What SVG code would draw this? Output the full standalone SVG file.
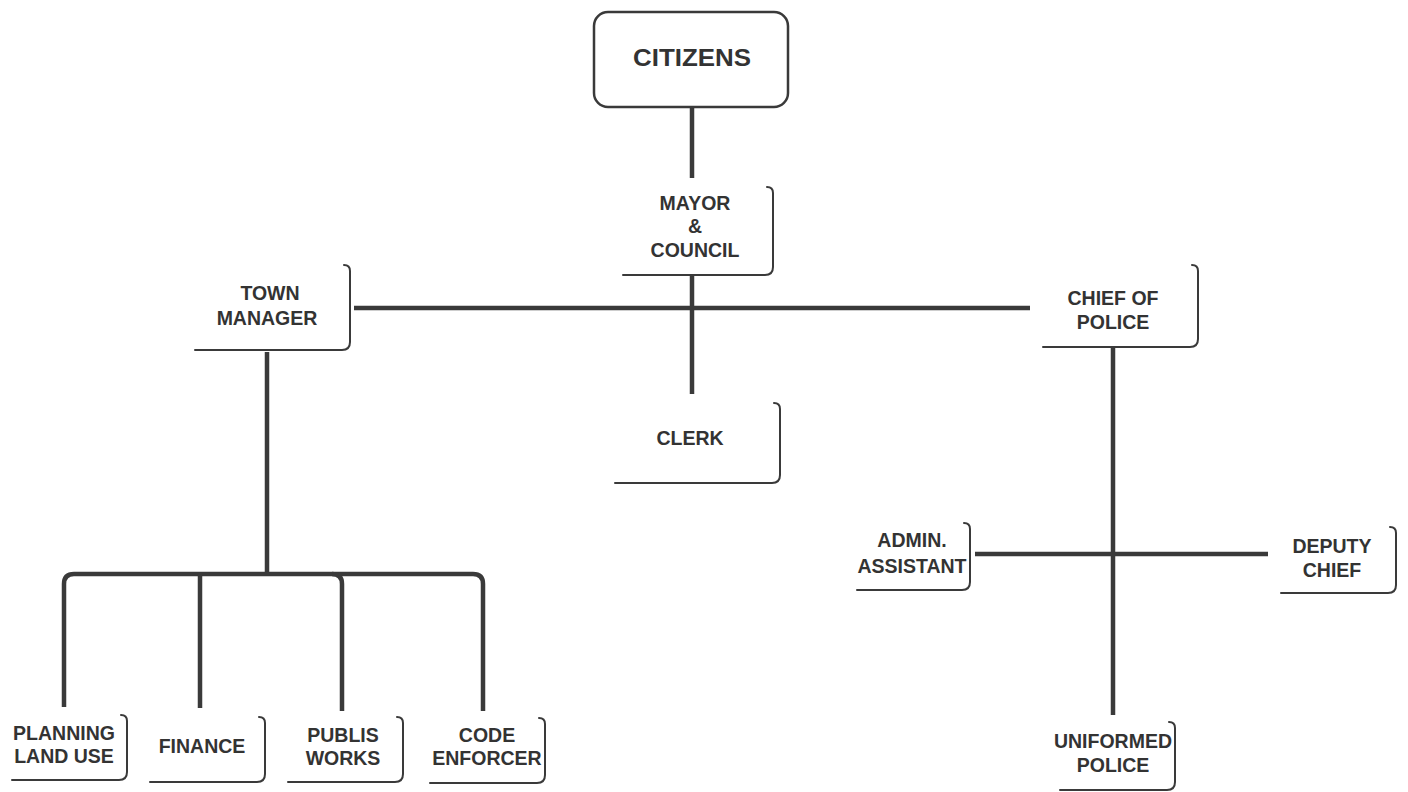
<svg xmlns="http://www.w3.org/2000/svg" width="1408" height="792" viewBox="0 0 1408 792">
<style>
.lbl{font-family:"Liberation Sans",Arial,sans-serif;font-weight:bold;font-size:19.5px;fill:#333;text-anchor:middle}
.big{font-size:23px}
.box{fill:none;stroke:#3a3a3a;stroke-width:2;stroke-linecap:round}
.conn{fill:none;stroke:#3a3a3a;stroke-width:4.5}
</style>
<rect width="1408" height="792" fill="#fff"/>
<g id="connectors" class="conn">
<path d="M692 107V178"/>
<path d="M692 276V394"/>
<path d="M354 308H1030"/>
<path d="M267 352V574"/>
<path d="M64 707V584Q64 574 74 574H473Q483 574 483 584V711"/>
<path d="M200 574V708"/>
<path d="M332 574Q342 574 342 584V711"/>
<path d="M1113 347V715"/>
<path d="M975 554H1268"/>
</g>
<g id="citizens">
<rect x="594" y="12" width="194" height="95" rx="14" fill="#fff" stroke="#3a3a3a" stroke-width="2.5"/>
<text class="lbl big" x="692" y="66" textLength="118" lengthAdjust="spacingAndGlyphs">CITIZENS</text>
</g>
<g id="mayor">
<path class="box" d="M767 187Q773 187 773 193V267Q773 275 765 275H623"/>
<text class="lbl" x="695" y="210">MAYOR</text>
<text class="lbl" x="695" y="233">&amp;</text>
<text class="lbl" x="695" y="257">COUNCIL</text>
</g>
<g id="town-manager">
<path class="box" d="M344 265Q350 265 350 271V342Q350 350 342 350H195"/>
<text class="lbl" x="270" y="300">TOWN</text>
<text class="lbl" x="267" y="325">MANAGER</text>
</g>
<g id="chief-of-police">
<path class="box" d="M1192 265Q1198 265 1198 271V339Q1198 347 1190 347H1043"/>
<text class="lbl" x="1113" y="305">CHIEF OF</text>
<text class="lbl" x="1113" y="329">POLICE</text>
</g>
<g id="clerk">
<path class="box" d="M774 403Q780 403 780 409V475Q780 483 772 483H615"/>
<text class="lbl" x="690" y="445">CLERK</text>
</g>
<g id="planning">
<path class="box" d="M121 715Q127 715 127 721V772Q127 780 119 780H12"/>
<text class="lbl" x="64" y="740">PLANNING</text>
<text class="lbl" x="64" y="763">LAND USE</text>
</g>
<g id="finance">
<path class="box" d="M259 717Q265 717 265 723V774Q265 782 257 782H150"/>
<text class="lbl" x="202" y="753">FINANCE</text>
</g>
<g id="public-works">
<path class="box" d="M397 717Q403 717 403 723V774Q403 782 395 782H288"/>
<text class="lbl" x="343" y="742">PUBLIS</text>
<text class="lbl" x="343" y="765">WORKS</text>
</g>
<g id="code-enforcer">
<path class="box" d="M539 718Q545 718 545 724V775Q545 783 537 783H430"/>
<text class="lbl" x="487" y="742">CODE</text>
<text class="lbl" x="487" y="765">ENFORCER</text>
</g>
<g id="admin-assistant">
<path class="box" d="M964 523Q970 523 970 529V582Q970 590 962 590H857"/>
<text class="lbl" x="912" y="547">ADMIN.</text>
<text class="lbl" x="912" y="573">ASSISTANT</text>
</g>
<g id="deputy-chief">
<path class="box" d="M1390 527Q1396 527 1396 533V585Q1396 593 1388 593H1281"/>
<text class="lbl" x="1332" y="553">DEPUTY</text>
<text class="lbl" x="1332" y="577">CHIEF</text>
</g>
<g id="uniformed-police">
<path class="box" d="M1169 722Q1175 722 1175 728V782Q1175 790 1167 790H1060"/>
<text class="lbl" x="1113" y="748">UNIFORMED</text>
<text class="lbl" x="1113" y="772">POLICE</text>
</g>
</svg>
